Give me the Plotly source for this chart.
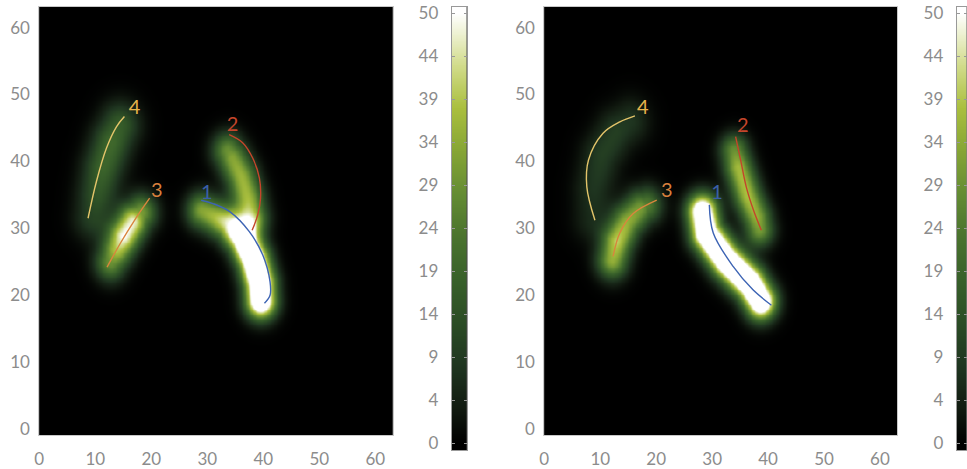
import numpy as np
import plotly.graph_objects as go

# ---------------- data ----------------
# Colour scale of the intensity maps (value 0..50)
CB_MIN, CB_MAX = 0, 50
CB_TICKVALS = [0, 5, 10, 15, 20, 25, 30, 35, 40, 45, 50]
CB_TICKTEXT = ["0", "4", "9", "14", "19", "24", "29", "34", "39", "44", "50"]
AXIS_TICKS = [0, 10, 20, 30, 40, 50, 60]

# Intensity strokes, panel A (left): centre-line x, y, peak value, width
A1_X = [29.0, 31.0, 33.5, 36.3, 38.2, 39.3, 39.5]
A1_Y = [32.7, 31.9, 30.8, 28.5, 25.3, 21.8, 19.3]
A1_V = [34, 38, 46, 70, 78, 78, 74]
A1_W = 1.85
A2_X = [33.6, 34.4, 36.0, 37.2, 37.8]
A2_Y = [41.6, 40.5, 37.8, 34.5, 31.8]
A2_V = [30, 34, 37, 38, 38]
A2_W = 1.9
A3_X = [12.7, 13.8, 15.0, 16.6, 18.1]
A3_Y = [25.0, 26.8, 28.8, 31.0, 32.4]
A3_V = [30, 40, 50, 48, 32]
A3_W = 1.9
A4_X = [9.6, 10.3, 11.3, 12.9, 14.3]
A4_Y = [31.8, 35.0, 39.0, 43.0, 45.4]
A4_V = [12, 16, 20, 21, 18]
A4_W = 2.4

# Intensity strokes, panel B (right)
B1_X = [28.2, 28.9, 32.4, 36.7, 38.6]
B1_Y = [32.5, 29.3, 25.3, 21.8, 19.2]
B1_V = [70, 75, 78, 78, 75]
B1_W = 1.85
B2_X = [33.9, 34.6, 36.3, 37.9, 38.4]
B2_Y = [41.6, 39.2, 34.8, 31.7, 29.9]
B2_V = [30, 38, 39, 36, 32]
B2_W = 1.75
B3_X = [12.1, 12.9, 14.7, 17.0, 18.2]
B3_Y = [25.3, 28.0, 31.0, 33.0, 33.5]
B3_V = [36, 41, 36, 32, 26]
B3_W = 1.9
B4_X = [8.6, 8.8, 10.2, 12.8, 15.2]
B4_Y = [31.5, 36.0, 41.0, 44.5, 46.0]
B4_V = [7, 9, 11, 11, 9]
B4_W = 2.4

# Traced curves, panel A
CA1_X = [28.9, 31.0, 34.0, 37.5, 39.9, 41.2, 41.2, 40.2]
CA1_Y = [34.2, 33.7, 32.5, 29.5, 26.0, 22.0, 20.0, 18.8]
CA2_X = [33.9, 36.3, 38.1, 39.3, 39.5, 39.0, 38.0]
CA2_Y = [44.0, 42.8, 40.5, 37.5, 34.5, 32.0, 29.7]
CA3_X = [12.1, 14.5, 17.0, 19.7]
CA3_Y = [24.2, 27.8, 31.2, 34.5]
CA4_X = [8.7, 10.2, 12.0, 13.8, 15.2]
CA4_Y = [31.5, 37.0, 42.0, 45.2, 46.7]
LA_X = [29.9, 34.5, 21.0, 17.0]
LA_Y = [35.2, 45.3, 35.5, 47.9]

# Traced curves, panel B
CB1_X = [29.5, 30.2, 33.75, 37.3, 40.6]
CB1_Y = [33.5, 29.3, 24.3, 20.8, 18.5]
CB2_X = [34.2, 35.1, 36.1, 37.4, 38.8]
CB2_Y = [43.7, 40.2, 36.2, 32.7, 29.7]
CB3_X = [12.3, 13.5, 15.9, 20.1]
CB3_Y = [25.8, 29.3, 32.2, 34.2]
CB4_X = [9.05, 7.6, 7.9, 10.5, 13.5, 16.2]
CB4_Y = [31.2, 36.2, 40.2, 44.2, 45.9, 46.8]
LB_X = [30.9, 35.5, 21.9, 17.6]
LB_Y = [35.2, 45.2, 35.5, 47.9]

LABELS = ["1", "2", "3", "4"]
CURVE_COLORS = ["#3d64b4", "#c4452b", "#d9853d", "#e3c46a"]
LABEL_COLORS = ["#3a5fa8", "#c4452b", "#d9803d", "#e6b44c"]

COLORSCALE = [
    [0.00, "#000000"], [0.08, "#111a10"], [0.18, "#1f3520"], [0.28, "#2b4c25"],
    [0.38, "#38602a"], [0.48, "#4a732e"], [0.58, "#648c33"], [0.68, "#86a535"],
    [0.78, "#aabf3e"], [0.88, "#d2dc8c"], [1.00, "#ffffff"],
]

# ---------------- rendering ----------------
gx = np.arange(-0.5, 64.01, 0.25)
gy = np.arange(-1.5, 64.01, 0.25)


def render(strokes):
    X, Y = np.meshgrid(gx, gy)
    Z = np.zeros_like(X)
    for xs, ys, vs, w in strokes:
        S = np.zeros_like(X)
        for i in range(len(xs) - 1):
            x0, y0, x1, y1 = xs[i], ys[i], xs[i + 1], ys[i + 1]
            dx, dy = x1 - x0, y1 - y0
            L2 = dx * dx + dy * dy
            t = np.clip(((X - x0) * dx + (Y - y0) * dy) / L2, 0, 1)
            d2 = (X - x0 - t * dx) ** 2 + (Y - y0 - t * dy) ** 2
            a = vs[i] + t * (vs[i + 1] - vs[i])
            S = np.maximum(S, a * np.exp(-d2 / (2 * w * w)))
        Z += S
    return np.minimum(Z, 60)


ZA = render([(A1_X, A1_Y, A1_V, A1_W), (A2_X, A2_Y, A2_V, A2_W),
             (A3_X, A3_Y, A3_V, A3_W), (A4_X, A4_Y, A4_V, A4_W)])
ZB = render([(B1_X, B1_Y, B1_V, B1_W), (B2_X, B2_Y, B2_V, B2_W),
             (B3_X, B3_Y, B3_V, B3_W), (B4_X, B4_Y, B4_V, B4_W)])

W, H = 967, 469


def dx_(a, b):
    return [a / W, b / W]


def dy_(top, bottom):
    return [1 - bottom / H, 1 - top / H]


FONT = dict(family="Lato, 'Open Sans', sans-serif", size=17, color="#8c8c8c")
LINEC = "#c8c8c8"

fig = go.Figure()

cb_vals = np.arange(-1.0, 51.01, 0.1)
cb_z = [[min(max(v, CB_MIN), CB_MAX), min(max(v, CB_MIN), CB_MAX)] for v in cb_vals]

panels = [
    (ZA, [(CA1_X, CA1_Y), (CA2_X, CA2_Y), (CA3_X, CA3_Y), (CA4_X, CA4_Y)], (LA_X, LA_Y), "x", "y", "x2", "y2"),
    (ZB, [(CB1_X, CB1_Y), (CB2_X, CB2_Y), (CB3_X, CB3_Y), (CB4_X, CB4_Y)], (LB_X, LB_Y), "x3", "y3", "x4", "y4"),
]

for Z, curves, labs, xa, ya, xc, yc in panels:
    fig.add_trace(go.Heatmap(x=gx, y=gy, z=Z, colorscale=COLORSCALE, zmin=CB_MIN, zmax=CB_MAX,
                             zsmooth="best", showscale=False, hoverinfo="skip", xaxis=xa, yaxis=ya))
    for (cx, cy), col in zip(curves, CURVE_COLORS):
        fig.add_trace(go.Scatter(x=cx, y=cy, mode="lines", line=dict(color=col, width=1.4, shape="spline"),
                                 showlegend=False, hoverinfo="skip", xaxis=xa, yaxis=ya))
    for i in range(4):
        fig.add_trace(go.Scatter(x=[labs[0][i]], y=[labs[1][i]], mode="text", text=[LABELS[i]],
                                 textfont=dict(family="Lato, sans-serif", size=20, color=LABEL_COLORS[i]),
                                 showlegend=False, hoverinfo="skip", xaxis=xa, yaxis=ya))
    fig.add_trace(go.Heatmap(x=[0, 1], y=cb_vals, z=cb_z, colorscale=COLORSCALE, zmin=CB_MIN, zmax=CB_MAX,
                             zsmooth="best", showscale=False, hoverinfo="skip", xaxis=xc, yaxis=yc))

heat_x_range = [0, 63.1]
heat_y_range = [-0.9, 63.08]
cb_y_range = [-0.81, 50.7]

common_heat_x = dict(range=heat_x_range, tickvals=AXIS_TICKS, ticks="", showgrid=False, zeroline=False,
                     showline=True, mirror=True, linecolor=LINEC, linewidth=1, tickfont=FONT,
                     ticklabelstandoff=9, automargin=False)
common_heat_y = dict(range=heat_y_range, tickvals=AXIS_TICKS, ticks="", showgrid=False, zeroline=False,
                     showline=True, mirror=True, linecolor=LINEC, linewidth=1, tickfont=FONT,
                     ticklabelstandoff=5, automargin=False)
common_cb_x = dict(range=[0, 1], showticklabels=False, ticks="", showgrid=False, zeroline=False,
                   showline=True, mirror=True, linecolor="#999999", linewidth=1, automargin=False)
common_cb_y = dict(range=cb_y_range, tickvals=CB_TICKVALS, ticktext=CB_TICKTEXT, ticks="inside",
                   ticklen=3, tickcolor="#999999", showgrid=False, zeroline=False, showline=True,
                   mirror="ticks", linecolor="#999999", linewidth=1, tickfont=FONT, ticklabelstandoff=9,
                   automargin=False)

fig.update_layout(
    width=W, height=H, margin=dict(l=0, r=0, t=0, b=0, autoexpand=False),
    paper_bgcolor="white", plot_bgcolor="black", showlegend=False,
    xaxis=dict(domain=dx_(39.3, 392.7), anchor="y", **common_heat_x),
    yaxis=dict(domain=dy_(7, 435), anchor="x", **common_heat_y),
    xaxis2=dict(domain=dx_(451.7, 466.7), anchor="y2", **common_cb_x),
    yaxis2=dict(domain=dy_(7, 450), anchor="x2", **common_cb_y),
    xaxis3=dict(domain=dx_(544.3, 897.3), anchor="y3", **common_heat_x),
    yaxis3=dict(domain=dy_(7, 435), anchor="x3", **common_heat_y),
    xaxis4=dict(domain=dx_(956.7, 966.5), anchor="y4", **common_cb_x),
    yaxis4=dict(domain=dy_(7, 450), anchor="x4", **common_cb_y),
)

fig.write_html("out.html", config={"displayModeBar": False},
               post_script="document.body.style.margin='0';document.body.style.overflow='hidden';")
